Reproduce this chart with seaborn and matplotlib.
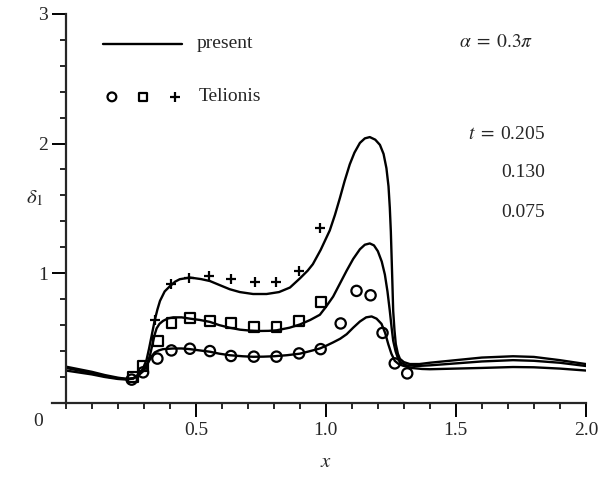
import numpy as np
import pandas as pd
import matplotlib
matplotlib.use("Agg")
import matplotlib.pyplot as plt
import seaborn as sns

# Displacement thickness delta_1 along x, alpha = 0.3*pi
# present computation at three times
x_205 = [0.00, 0.05, 0.10, 0.15, 0.20, 0.235, 0.26, 0.28, 0.295, 0.31, 0.32, 0.33,
         0.342, 0.352, 0.362, 0.38, 0.40, 0.42, 0.438, 0.477, 0.52, 0.554, 0.59,
         0.63, 0.669, 0.72, 0.772, 0.82, 0.862, 0.90, 0.93, 0.95, 0.98, 1.015,
         1.035, 1.054, 1.072, 1.092, 1.11, 1.131, 1.15, 1.169, 1.19, 1.208, 1.222,
         1.233, 1.241, 1.246, 1.25, 1.253, 1.256, 1.259, 1.264, 1.269, 1.277, 1.285,
         1.30, 1.323, 1.36, 1.40, 1.50, 1.60, 1.72, 1.80, 1.90, 2.00]
y_205 = [0.28, 0.26, 0.24, 0.215, 0.195, 0.185, 0.19, 0.22, 0.26, 0.33, 0.42, 0.52,
         0.64, 0.72, 0.787, 0.86, 0.90, 0.935, 0.954, 0.967, 0.955, 0.94, 0.91,
         0.877, 0.855, 0.84, 0.84, 0.855, 0.89, 0.96, 1.02, 1.07, 1.18, 1.33,
         1.45, 1.58, 1.71, 1.84, 1.93, 2.005, 2.04, 2.05, 2.03, 1.99, 1.92,
         1.81, 1.67, 1.505, 1.32, 1.12, 0.92, 0.71, 0.56, 0.454, 0.38, 0.34,
         0.315, 0.30, 0.30, 0.31, 0.33, 0.35, 0.36, 0.355, 0.33, 0.30]

x_130 = [0.00, 0.05, 0.10, 0.15, 0.20, 0.235, 0.26, 0.28, 0.295, 0.315, 0.325, 0.335,
         0.342, 0.349, 0.36, 0.374, 0.393, 0.413, 0.445, 0.477, 0.515, 0.554, 0.59,
         0.63, 0.67, 0.708, 0.746, 0.78, 0.81, 0.86, 0.90, 0.94, 0.977, 1.00,
         1.028, 1.054, 1.08, 1.105, 1.131, 1.15, 1.169, 1.185, 1.20, 1.215, 1.227,
         1.237, 1.246, 1.253, 1.259, 1.268, 1.278, 1.29, 1.31, 1.35, 1.40, 1.50,
         1.60, 1.72, 1.80, 1.90, 2.00]
y_130 = [0.27, 0.25, 0.23, 0.205, 0.19, 0.185, 0.19, 0.22, 0.25, 0.31, 0.38, 0.47,
         0.53, 0.575, 0.61, 0.633, 0.652, 0.66, 0.66, 0.65, 0.64, 0.625, 0.60,
         0.58, 0.565, 0.558, 0.555, 0.556, 0.56, 0.58, 0.605, 0.64, 0.68, 0.74,
         0.82, 0.92, 1.02, 1.11, 1.185, 1.22, 1.23, 1.215, 1.17, 1.09, 0.99,
         0.86, 0.71, 0.58, 0.48, 0.40, 0.34, 0.31, 0.29, 0.285, 0.29, 0.305,
         0.32, 0.33, 0.325, 0.31, 0.285]

x_075 = [0.00, 0.05, 0.10, 0.15, 0.20, 0.235, 0.26, 0.28, 0.295, 0.307, 0.317, 0.33,
         0.342, 0.357, 0.374, 0.413, 0.445, 0.477, 0.515, 0.554, 0.59, 0.63, 0.68,
         0.72, 0.76, 0.80, 0.85, 0.90, 0.94, 0.977, 1.00, 1.028, 1.055, 1.08,
         1.105, 1.131, 1.155, 1.176, 1.195, 1.214, 1.228, 1.24, 1.252, 1.265, 1.28,
         1.297, 1.33, 1.37, 1.40, 1.50, 1.60, 1.72, 1.80, 1.90, 2.00]
y_075 = [0.25, 0.235, 0.22, 0.20, 0.185, 0.18, 0.19, 0.215, 0.24, 0.27, 0.313, 0.36,
         0.39, 0.405, 0.415, 0.42, 0.42, 0.415, 0.405, 0.395, 0.38, 0.368, 0.36,
         0.356, 0.357, 0.36, 0.368, 0.38, 0.40, 0.42, 0.44, 0.467, 0.495, 0.53,
         0.58, 0.628, 0.66, 0.667, 0.65, 0.61, 0.54, 0.454, 0.38, 0.325, 0.30,
         0.287, 0.27, 0.262, 0.26, 0.265, 0.27, 0.277, 0.275, 0.265, 0.25]

# Telionis data
tel_plus_x = [0.342, 0.406, 0.474, 0.551, 0.637, 0.727, 0.81, 0.897, 0.977]
tel_plus_y = [0.64, 0.915, 0.967, 0.98, 0.955, 0.93, 0.93, 1.02, 1.35]

tel_sq_x = [0.259, 0.297, 0.355, 0.406, 0.477, 0.554, 0.635, 0.723, 0.81, 0.897, 0.98]
tel_sq_y = [0.197, 0.287, 0.48, 0.615, 0.652, 0.635, 0.615, 0.587, 0.587, 0.635, 0.78]

tel_circ_x = [0.253, 0.297, 0.352, 0.406, 0.477, 0.554, 0.635, 0.723, 0.81, 0.897,
              0.98, 1.057, 1.118, 1.172, 1.218, 1.265, 1.313]
tel_circ_y = [0.18, 0.236, 0.342, 0.405, 0.418, 0.40, 0.362, 0.357, 0.357, 0.382,
              0.415, 0.613, 0.864, 0.83, 0.54, 0.305, 0.228]

times = ["0.205", "0.130", "0.075"]

sns.set_theme(style="ticks")
plt.rcParams["font.family"] = ["Liberation Serif", "DejaVu Serif"]
plt.rcParams["mathtext.fontset"] = "stix"

fig = plt.figure(figsize=(5.99, 4.78), dpi=100)
ax = fig.add_axes([0.110, 0.157, 0.868, 0.814])

curves = pd.concat([
    pd.DataFrame({"x": x_205, "d": y_205, "t": times[0]}),
    pd.DataFrame({"x": x_130, "d": y_130, "t": times[1]}),
    pd.DataFrame({"x": x_075, "d": y_075, "t": times[2]}),
])
sns.lineplot(data=curves, x="x", y="d", units="t", estimator=None, sort=False,
             color="black", lw=1.7, ax=ax, legend=False)
for ln in ax.lines:
    ln.set_solid_joinstyle("round")

mk = dict(facecolor="none", edgecolor="black", linewidth=1.6)
sns.scatterplot(x=tel_circ_x, y=tel_circ_y, marker="o", s=55, ax=ax, zorder=3, **mk)
sns.scatterplot(x=tel_sq_x, y=tel_sq_y, marker="s", s=50, ax=ax, zorder=3, **mk)
sns.scatterplot(x=tel_plus_x, y=tel_plus_y, marker="+", s=60, color="black",
                linewidth=1.6, ax=ax, zorder=3)

ax.set_xlim(0, 2.0)
ax.set_ylim(0, 3.0)
for s in ["top", "right"]:
    ax.spines[s].set_visible(False)
ax.spines["bottom"].set_bounds(-0.055, 2.0)
for s in ["left", "bottom"]:
    ax.spines[s].set_linewidth(1.6)

ax.set_xticks([0.5, 1.0, 1.5, 2.0])
ax.set_xticklabels(["0.5", "1.0", "1.5", "2.0"])
ax.set_xticks(np.arange(0, 2.01, 0.1), minor=True)
ax.set_yticks([1, 2, 3])
ax.set_yticklabels(["1", "2", "3"])
ax.set_yticks(np.arange(0, 3.01, 0.2), minor=True)
ax.tick_params(axis="both", which="major", length=10, width=1.4, labelsize=14,
               direction="out", color="black")
ax.tick_params(axis="both", which="minor", length=4.5, width=1.4, direction="out")
ax.tick_params(axis="x", which="major", pad=4)
ax.tick_params(axis="y", which="major", pad=3)
ax.text(-0.105, -0.08, "0", fontsize=14, ha="center", va="top")

ax.set_xlabel("$x$", fontsize=15, labelpad=10)
ax.set_ylabel(r"$\delta_1$", fontsize=15, rotation=0, labelpad=14)
ax.yaxis.set_label_coords(-0.06, 0.50)

# key
ax.plot([0.142, 0.446], [2.77, 2.77], color="black", lw=1.7)
ax.text(0.504, 2.77, "present", fontsize=14, va="center")
ax.scatter([0.177], [2.36], marker="o", s=40, **mk)
ax.scatter([0.296], [2.36], marker="s", s=36, **mk)
ax.scatter([0.419], [2.36], marker="+", s=50, color="black", linewidth=1.6)
ax.text(0.512, 2.36, "Telionis", fontsize=14, va="center")

ax.text(1.654, 2.78, r"$\alpha\;=\;0.3\pi$", fontsize=14, ha="center", va="center")
ax.text(1.842, 2.07, r"$t\;=\;$" + times[0], fontsize=14, ha="right", va="center")
ax.text(1.842, 1.78, times[1], fontsize=14, ha="right", va="center")
ax.text(1.842, 1.47, times[2], fontsize=14, ha="right", va="center")

fig.savefig("out.png", dpi=100)
